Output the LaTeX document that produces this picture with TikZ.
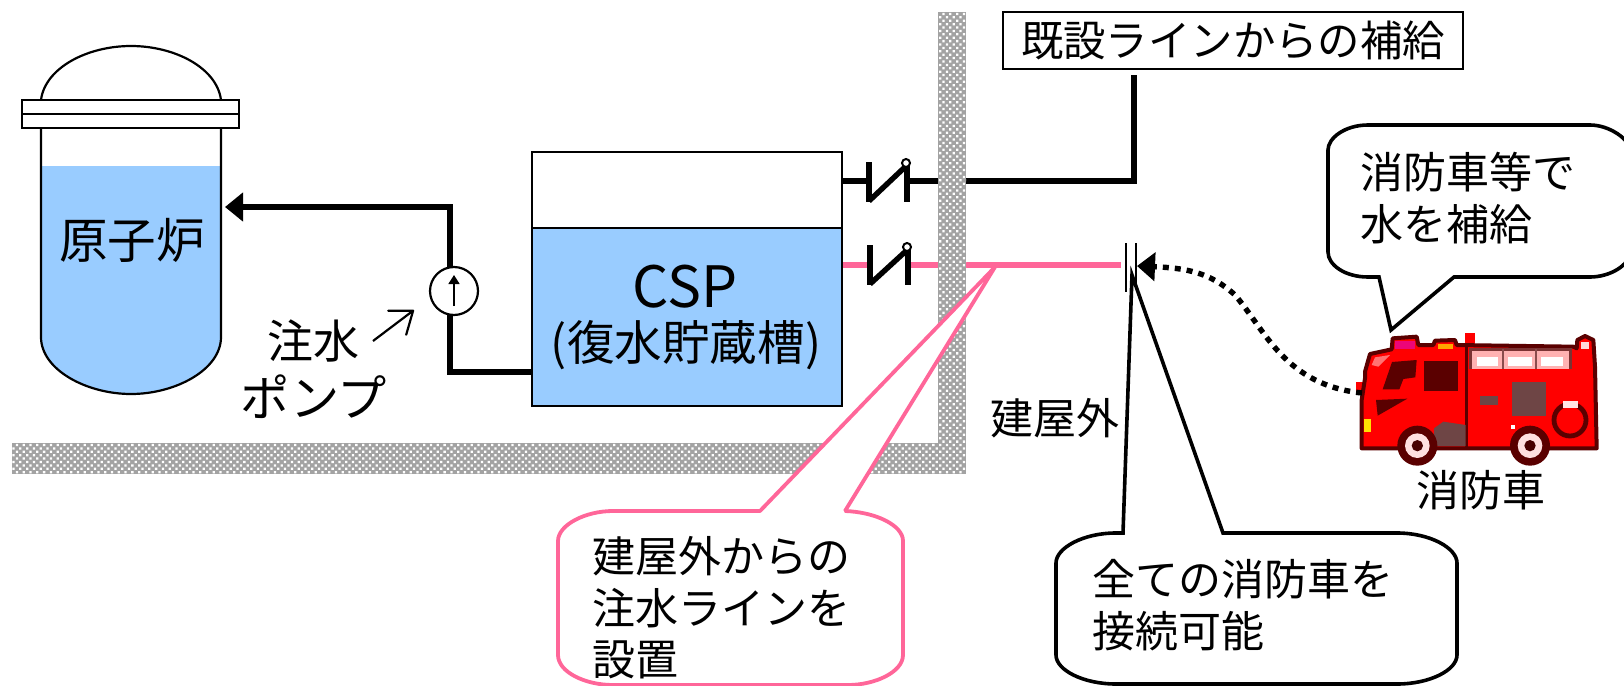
\documentclass[tikz,border=0pt]{standalone}
\usepackage{fontspec}
\setmainfont{Noto Sans CJK JP}
\usetikzlibrary{arrows.meta,patterns.meta}
\definecolor{water}{HTML}{99CCFF}
\definecolor{pinkline}{HTML}{FF6699}
\definecolor{truckdark}{HTML}{5A0000}
\definecolor{truckgray}{HTML}{6E4545}
\tikzset{
  label22/.style={inner sep=0pt,font=\fontsize{21.5}{25.7}\selectfont,align=left},
  big24/.style={inner sep=0pt,font=\fontsize{23}{28}\selectfont,align=center},
  thinline/.style={draw=black,line width=1.1pt},
  pipe/.style={draw=black,line width=2.8pt},
  pinkpipe/.style={draw=pinkline,line width=2.6pt},
  valvebar/.style={draw=black,line width=2.7pt},
  callblack/.style={draw=black,fill=white,line width=1.8pt,line join=miter},
  callpink/.style={draw=pinkline,fill=white,line width=1.9pt,line join=bevel},
  wallfill/.style={fill=black!36,postaction={pattern={Dots[radius=0.8pt,distance=2.4pt,angle=45]},pattern color=white}},
}
\begin{document}
\begin{tikzpicture}[x=0.5pt,y=-0.5pt]
\useasboundingbox (0,0) rectangle (1624,686);
\clip (0,0) rectangle (1624,686);
% pipes behind the wall
\coordinate (blackA) at (842,181);
\coordinate (blackB) at (1134,181);
\coordinate (pinkA) at (842,265);
\coordinate (pinkB) at (1121,265);
\draw[pinkpipe] (pinkA) -- (pinkB);
\draw[pipe,line join=miter] (blackA) -- (blackB) -- (1134,75);
% wall
\path[wallfill] (12,443) rectangle (966,474);
\path[wallfill] (938,12) rectangle (966,474);
% reactor
\fill[water] (41,166) -- (221,166) -- (221,337) .. controls (221,370) and (175,394) .. (131,394) .. controls (87,394) and (41,370) .. (41,337) -- cycle;
\draw[thinline] (41,128) -- (41,337) .. controls (41,370) and (87,394) .. (131,394) .. controls (175,394) and (221,370) .. (221,337) -- (221,128);
\draw[thinline,fill=white] (41,100) .. controls (45,68) and (87,46) .. (131,46) .. controls (175,46) and (217,68) .. (221,100);
\draw[thinline,fill=white] (22,100) rectangle (239,114);
\draw[thinline,fill=white] (22,114) rectangle (239,128);
\node[big24,font=\fontsize{24.3}{28}\selectfont] (reactorlabel) at (132,240) {原子炉};
% CSP tank
\fill[water] (532,228) rectangle (842,406);
\draw[thinline] (532,152) rectangle (842,406);
\draw[thinline] (532,228) -- (842,228);
\node[big24,font=\fontsize{28.5}{32}\selectfont] (csplabel) at (685,287) {CSP};
\node[big24,font=\fontsize{23.8}{26}\selectfont] (csplabeltwo) at (686,345) {(復水貯蔵槽)};
% pump line
\coordinate (tankout) at (532,372);
\coordinate (reactorin) at (225,207);
\draw[pipe,line join=miter,-{Triangle[length=9pt,width=14pt]}] (tankout) -- (450,372) -- (450,207) -- (reactorin);
\node[circle,draw=black,line width=1.1pt,fill=white,minimum size=24pt,inner sep=0pt] (pumpb) at (454,291) {};
\coordinate (pumparrowa) at (454,306);
\coordinate (pumparrowb) at (454,275);
\draw[line width=0.8pt,-{Triangle[length=4.5pt,width=5.5pt]}] (pumparrowa) -- (pumparrowb);
% pump label
\node[big24] (chusui) at (313,341) {注水};
\node[big24,font=\fontsize{24.6}{28}\selectfont] (pumplabel) at (314,397) {ポンプ};
\coordinate (labarrowa) at (373,341);
\coordinate (labarrowb) at (414,310);
\draw[line width=1.1pt,-{Straight Barb[length=10pt,width=15pt,round]}] (labarrowa) -- (labarrowb);
% valves
\fill[white] (871,170) rectangle (905,195);
\fill[white] (872,255) rectangle (906,275);
\draw[valvebar] (869,162) -- (869,202);
\draw[valvebar] (907,166) -- (907,202);
\draw[valvebar] (869,201) -- (905,167);
\node[circle,draw=black,line width=1pt,fill=white,minimum size=4pt,inner sep=0pt] (valvetop) at (906,163) {};
\draw[valvebar] (870,245) -- (870,285);
\draw[valvebar] (908,250) -- (908,285);
\draw[valvebar] (870,284) -- (906,251);
\node[circle,draw=black,line width=1pt,fill=white,minimum size=4pt,inner sep=0pt] (valvelow) at (907,247) {};
% connection flange
\draw[line width=1.1pt] (1126,243) -- (1126,292);
\draw[line width=1.1pt] (1136,243) -- (1136,292);
% top box
\node[draw=black,line width=1pt,fill=white,minimum width=230pt,minimum height=28.5pt,inner sep=0pt,font=\fontsize{21.2}{25}\selectfont] (supplybox) at (1233,40) {既設ラインからの補給};
% texts
\node[label22] (outside) at (1055,418) {建屋外};
\node[label22] (trucklabel) at (1481,490) {消防車};
% truck
\coordinate (truckhose) at (1362,393);
\coordinate (hoseend) at (1137,266);
\begin{scope}[shift={(1300,300)},x=0.16667pt,y=-0.16667pt]
\fill[red] (495,100) rectangle (525,135);
\fill[red] (168,245) rectangle (200,275);
\draw[truckdark,line width=2pt,fill=red,line join=round] (185,445) -- (185,300) -- (195,235) -- (195,215) -- (210,162) -- (275,148) -- (278,115) -- (350,110) -- (355,135) -- (400,135) -- (405,122) -- (465,120) -- (470,135) -- (820,140) -- (830,145) -- (832,120) -- (855,108) -- (880,120) -- (885,200) -- (890,445) -- cycle;
\fill[red!55!white] (215,195) -- (225,172) -- (270,165) -- (235,200) -- cycle;
\fill[magenta!80!red] (285,122) rectangle (345,146);
\fill[orange!70!yellow] (414,132) rectangle (458,148);
\fill[white!85!red] (842,125) rectangle (868,148);
\fill[truckdark] (248,268) -- (276,186) -- (350,180) -- (346,232) -- (310,237) -- (298,268) -- cycle;
\fill[truckdark] (373,183) rectangle (474,272);
\fill[truckdark] (228,300) -- (322,296) -- (233,347) -- cycle;
\draw[truckdark,line width=1.8pt] (500,135) -- (500,440);
\draw[truckdark!80!white,line width=1.5pt,fill=red!30!white] (512,208) -- (512,148) -- (812,148) -- (812,208);
\draw[truckdark!70!white,line width=1pt] (610,148) -- (610,208) (708,148) -- (708,208);
\fill[white] (530,172) rectangle (595,197);
\fill[white] (625,172) rectangle (695,197);
\fill[white] (723,172) rectangle (790,197);
\fill[truckgray] (635,245) rectangle (738,348);
\fill[truckgray] (540,288) rectangle (595,315);
\fill[truckgray] (402,438) -- (402,385) -- (430,365) -- (497,375) -- (497,438) -- cycle;
\draw[truckdark,line width=2.4pt] (810,360) circle[radius=48];
\fill[white!90!red] (790,303) rectangle (835,325);
\fill[yellow!85!orange] (193,357) rectangle (212,397);
\fill[white] (634,375) rectangle (646,387);
\foreach \cx in {352,690} {
  \fill[truckdark] (\cx,437) circle[radius=60];
  \fill[white!88!red] (\cx,437) circle[radius=37];
  \fill[truckdark!80!black] (\cx,437) circle[radius=17];
}
\end{scope}
% hose
\draw[draw=black,line width=2.7pt,dash pattern=on 3pt off 3pt,-{Triangle[length=9pt,width=14pt]}] (truckhose) .. controls (1285,385) and (1265,330) .. (1235,295) .. controls (1210,272) and (1185,268) .. (hoseend);
% callouts
\draw[callblack] (1368,125) -- (1590,125) .. controls (1610,125) and (1630,140) .. (1630,150) -- (1630,252) .. controls (1630,265) and (1610,277) .. (1590,277) -- (1454,277) -- (1391,330) -- (1379,277) -- (1368,277) .. controls (1345,277) and (1328,265) .. (1328,252) -- (1328,150) .. controls (1328,138) and (1345,125) .. (1368,125) -- cycle;
\node[label22,anchor=west] (calla) at (1360,198) {消防車等で\\水を補給};
\draw[callpink] (613,511) -- (760,511) -- (995,267) -- (845,511) .. controls (875,512) and (903,525) .. (903,541) -- (903,655) .. controls (903,672) and (875,685) .. (848,685) -- (613,685) .. controls (585,685) and (558,672) .. (558,655) -- (558,541) .. controls (558,525) and (585,511) .. (613,511) -- cycle;
\node[label22,anchor=west] (callb) at (592,608) {建屋外からの\\注水ラインを\\設置};
\draw[callblack] (1116,533) -- (1123,533) -- (1132,275) -- (1223,533) -- (1397,533) .. controls (1430,533) and (1457,548) .. (1457,563) -- (1457,655) .. controls (1457,670) and (1430,684) .. (1397,684) -- (1116,684) .. controls (1083,684) and (1056,670) .. (1056,655) -- (1056,563) .. controls (1056,548) and (1083,533) .. (1116,533) -- cycle;
\node[label22,anchor=west] (callc) at (1092,605) {全ての消防車を\\接続可能};
\end{tikzpicture}
\end{document}
